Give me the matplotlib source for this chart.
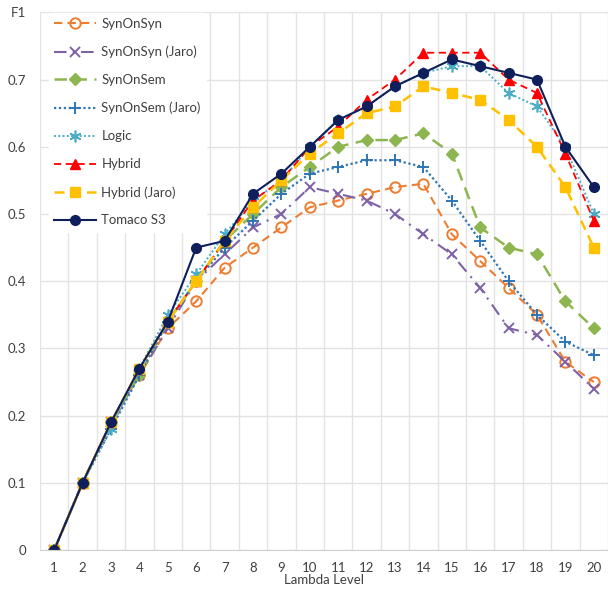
import numpy as np
import matplotlib.pyplot as plt

plt.rcParams['font.family'] = ['Lato', 'DejaVu Sans']

# F1 per lambda level for each method
levels = list(range(1, 21))
syn_on_syn = [0, 0.10, 0.19, 0.26, 0.33, 0.37, 0.42, 0.45, 0.48, 0.51,
              0.52, 0.53, 0.54, 0.545, 0.47, 0.43, 0.39, 0.35, 0.28, 0.25]
syn_on_syn_jaro = [0, 0.10, 0.19, 0.26, 0.33, 0.40, 0.44, 0.48, 0.50, 0.54,
                   0.53, 0.52, 0.50, 0.47, 0.44, 0.39, 0.33, 0.32, 0.28, 0.24]
syn_on_sem = [0, 0.10, 0.19, 0.26, 0.34, 0.40, 0.46, 0.50, 0.54, 0.57,
              0.60, 0.61, 0.61, 0.62, 0.59, 0.48, 0.45, 0.44, 0.37, 0.33]
syn_on_sem_jaro = [0, 0.10, 0.18, 0.26, 0.34, 0.40, 0.45, 0.49, 0.53, 0.56,
                   0.57, 0.58, 0.58, 0.57, 0.52, 0.46, 0.40, 0.35, 0.31, 0.29]
logic = [0, 0.10, 0.18, 0.27, 0.35, 0.41, 0.47, 0.52, 0.55, 0.60,
         0.64, 0.66, 0.69, 0.71, 0.72, 0.72, 0.68, 0.66, 0.60, 0.50]
hybrid = [0, 0.10, 0.19, 0.27, 0.34, 0.40, 0.46, 0.52, 0.55, 0.60,
          0.63, 0.67, 0.70, 0.74, 0.74, 0.74, 0.70, 0.68, 0.59, 0.49]
hybrid_jaro = [0, 0.10, 0.19, 0.27, 0.34, 0.40, 0.46, 0.51, 0.55, 0.59,
               0.62, 0.65, 0.66, 0.69, 0.68, 0.67, 0.64, 0.60, 0.54, 0.45]
tomaco_s3 = [0, 0.10, 0.19, 0.27, 0.34, 0.45, 0.46, 0.53, 0.56, 0.60,
             0.64, 0.66, 0.69, 0.71, 0.73, 0.72, 0.71, 0.70, 0.60, 0.54]

fig = plt.figure(figsize=(6.08, 5.90), dpi=100)
ax = fig.add_axes([40 / 608, 1 - 550 / 590, 568 / 608, 537.6 / 590])

ax.plot(levels, syn_on_syn, color='#ED7D31', ls=(0, (4, 2.5)), lw=1.5,
        marker='o', ms=7.5, mfc='none', mew=1.4, label='SynOnSyn')
ax.plot(levels, syn_on_syn_jaro, color='#7E62A8', ls=(0, (6, 3, 1, 3)), lw=1.5,
        marker='x', ms=7.5, mew=1.4, label='SynOnSyn (Jaro)')
ax.plot(levels, syn_on_sem, color='#8DB650', ls=(0, (5, 3)), lw=1.8,
        marker='D', ms=6, label='SynOnSem')
ax.plot(levels, syn_on_sem_jaro, color='#2E75B6', ls=(0, (1, 1.2)), lw=1.6,
        marker='+', ms=8.5, mew=1.4, label='SynOnSem (Jaro)')
ax.plot(levels, logic, color='#4BACC6', ls=(0, (1, 1.2)), lw=1.4,
        marker=(6, 2, 0), ms=8.5, mew=1.2, label='Logic')
ax.plot(levels, hybrid, color='#FF0000', ls=(0, (4, 2.5)), lw=1.3,
        marker='^', ms=7, label='Hybrid')
ax.plot(levels, hybrid_jaro, color='#FFC000', ls=(0, (4, 2.5)), lw=1.8,
        marker='s', ms=7, label='Hybrid (Jaro)')
ax.plot(levels, tomaco_s3, color='#0E1F5B', ls='-', lw=1.5,
        marker='o', ms=7, label='Tomaco S3')

ax.set_xlim(0.5, 20.5)
ax.set_ylim(0, 0.8)
ax.set_xticks(levels)
ax.set_xticks(np.arange(0.5, 21, 1), minor=True)
ax.set_yticks(np.arange(0, 0.81, 0.1))
ax.set_yticklabels(['0', '0.1', '0.2', '0.3', '0.4', '0.5', '0.6', '0.7', 'F1'])
ax.grid(axis='x', which='minor', color='#E3E3E3', lw=1)
ax.grid(axis='y', which='major', color='#E3E3E3', lw=1)
ax.set_axisbelow(True)
ax.tick_params(which='both', length=0, labelsize=9.5, labelcolor='#404040')
ax.tick_params(axis='y', pad=10)
ax.tick_params(axis='x', pad=9)
for s in ['top', 'right', 'left']:
    ax.spines[s].set_visible(False)
ax.spines['bottom'].set_color('#D0D0D0')
ax.set_xlabel('Lambda Level', fontsize=9.5, color='#404040', labelpad=0)

leg = ax.legend(loc='upper left', bbox_to_anchor=(42 / 608, 1 - 6 / 590),
                bbox_transform=fig.transFigure, frameon=True, fontsize=9.5,
                handlelength=3.2, labelspacing=1.2, borderpad=0.4,
                handletextpad=0.4)
leg.get_frame().set_facecolor('white')
leg.get_frame().set_edgecolor('white')
leg.get_frame().set_alpha(1)
for t in leg.get_texts():
    t.set_color('#404040')

fig.savefig('out.png', dpi=100)
